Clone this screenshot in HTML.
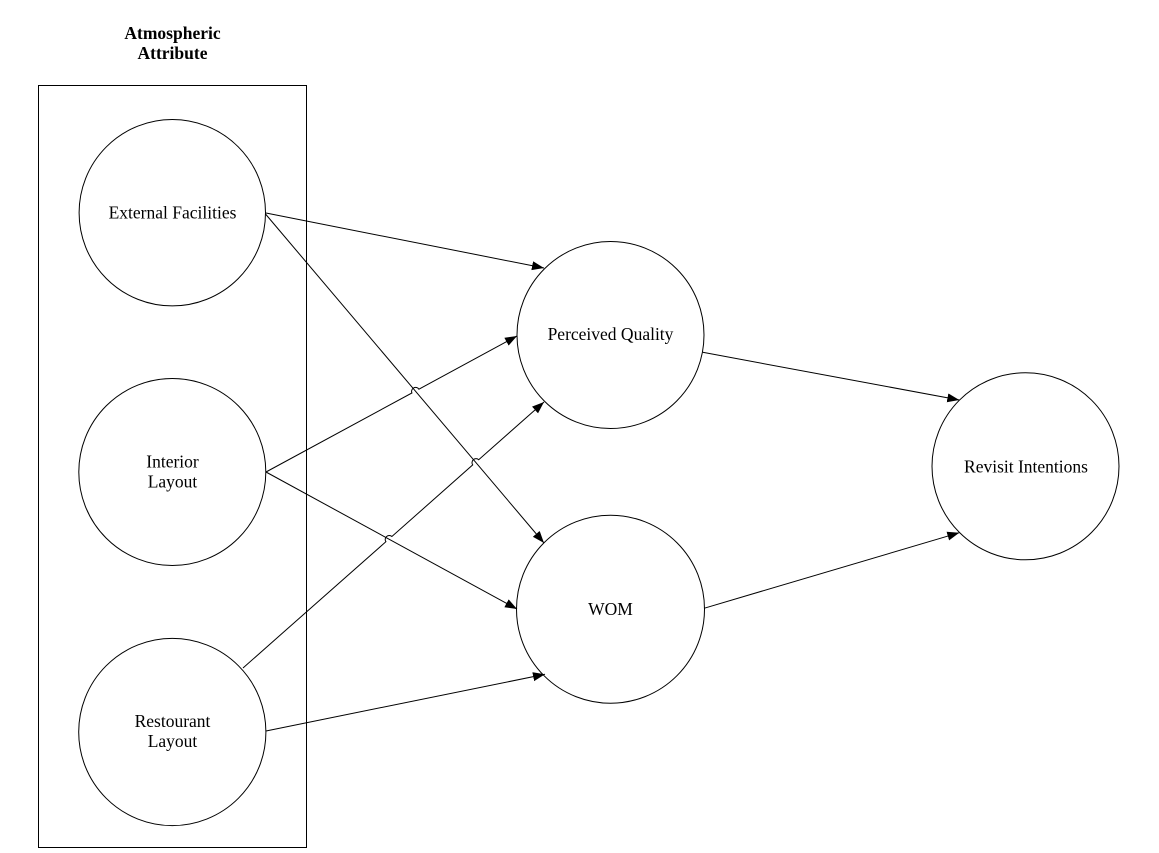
<!DOCTYPE html>
<html>
<head>
<meta charset="utf-8">
<style>
  html, body { margin:0; padding:0; background:#fff; }
  body { width:1159px; height:853px; overflow:hidden; }
  svg { display:block; }
  text { font-family: "Liberation Serif", serif; font-size:17.5px; fill:#000; }
  .b { font-weight:bold; }
</style>
</head>
<body>
<svg width="1159" height="853" viewBox="0 0 1159 853" xmlns="http://www.w3.org/2000/svg">
  <defs>
    <marker id="ah" markerUnits="userSpaceOnUse" markerWidth="13" markerHeight="10" refX="12" refY="4.5" orient="auto">
      <path d="M0,0 L12,4.5 L0,9 z" fill="#000"/>
    </marker>
  </defs>

  <!-- Title -->
  <text class="b" x="172.5" y="39" text-anchor="middle">Atmospheric</text>
  <text class="b" x="172.5" y="59" text-anchor="middle">Attribute</text>

  <!-- Group rectangle -->
  <rect x="38.5" y="85.5" width="268" height="762" fill="none" stroke="#000" stroke-width="1"/>

  <!-- Circles -->
  <g fill="#fff" stroke="#000" stroke-width="1">
    <circle cx="172.3" cy="212.7" r="93.2"/>
    <circle cx="172.3" cy="472" r="93.5"/>
    <circle cx="172.3" cy="732" r="93.6"/>
    <circle cx="610.5" cy="335" r="93.5"/>
    <circle cx="610.5" cy="609.2" r="94"/>
    <circle cx="1025.5" cy="466.3" r="93.5"/>
  </g>

  <!-- Connectors -->
  <g fill="none" stroke="#000" stroke-width="1">
    <!-- External -> PQ -->
    <path d="M266,213 L544,268" marker-end="url(#ah)"/>
    <!-- External -> WOM -->
    <path d="M265.5,214 L544,543" marker-end="url(#ah)"/>
    <!-- Interior -> PQ (hop over Ext->WOM) -->
    <path d="M266,472 L411.9,393.0 A4,4 0 0 1 418.9,389.2 L517,336" marker-end="url(#ah)"/>
    <!-- Interior -> WOM -->
    <path d="M266,472 L517,609" marker-end="url(#ah)"/>
    <!-- Restourant -> PQ (hops) -->
    <path d="M243,668 L385.9,541.7 A4,4 0 0 1 391.9,536.5 L472.7,464.9 A4,4 0 0 1 478.7,459.7 L544,402" marker-end="url(#ah)"/>
    <!-- Restourant -> WOM -->
    <path d="M266,731 L545,674.3" marker-end="url(#ah)"/>
    <!-- PQ -> RI -->
    <path d="M702.7,352.3 L959.3,400" marker-end="url(#ah)"/>
    <!-- WOM -> RI -->
    <path d="M704,608.3 L959.3,532.7" marker-end="url(#ah)"/>
  </g>

  <!-- Labels -->
  <text x="172.5" y="218.3" text-anchor="middle">External Facilities</text>
  <text x="172.5" y="467.3" text-anchor="middle">Interior</text>
  <text x="172.5" y="487.3" text-anchor="middle">Layout</text>
  <text x="172.5" y="727" text-anchor="middle">Restourant</text>
  <text x="172.5" y="747" text-anchor="middle">Layout</text>
  <text x="610.5" y="340" text-anchor="middle">Perceived Quality</text>
  <text x="610.5" y="615" text-anchor="middle">WOM</text>
  <text x="1026" y="472.3" text-anchor="middle">Revisit Intentions</text>
</svg>
</body>
</html>
